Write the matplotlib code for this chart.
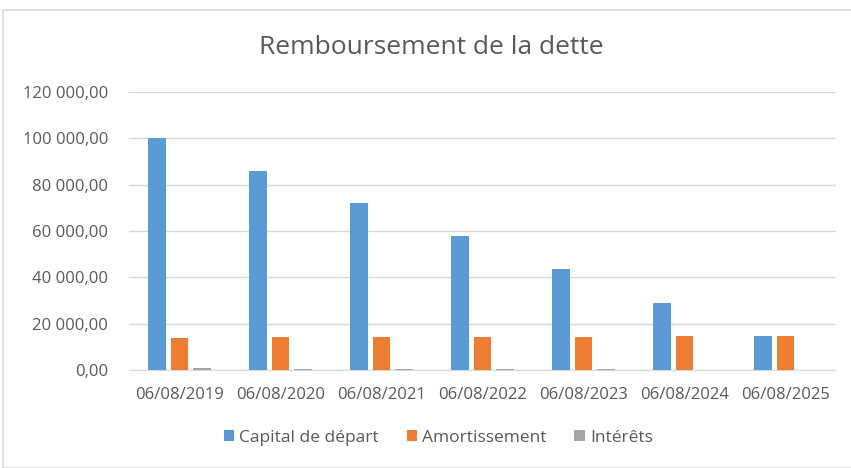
import numpy as np
import matplotlib
matplotlib.use("Agg")
import matplotlib.pyplot as plt
from matplotlib.patches import Rectangle

dates = ["06/08/2019", "06/08/2020", "06/08/2021", "06/08/2022",
         "06/08/2023", "06/08/2024", "06/08/2025"]
capital = [100000, 86010, 71920, 57735, 43450, 29060, 14580]
amortissement = [13990, 14090, 14190, 14290, 14390, 14490, 14590]
interets = [700, 600, 500, 400, 300, 200, 100]
series_names = ["Capital de départ", "Amortissement", "Intérêts"]
colors = ["#5b9bd5", "#ed7d31", "#a5a5a5"]

plt.rcParams['font.family'] = ['Open Sans', 'DejaVu Sans']
txt = "#595959"

fig = plt.figure(figsize=(8.51, 4.68), dpi=100)
fig.patches.append(Rectangle((3 / 851, 0), 1, 458 / 468, transform=fig.transFigure,
                             fill=False, edgecolor="#d9d9d9", linewidth=1.2))
ax = fig.add_axes([129 / 851, 1 - 370 / 468, 707 / 851, 278 / 468])

x = np.arange(len(dates))
w = 0.178
step = 0.227
for i, (vals, name, c) in enumerate(zip([capital, amortissement, interets], series_names, colors)):
    ax.bar(x + (i - 1) * step, vals, width=w, color=c, label=name, zorder=3)

ax.set_xlim(-0.5, len(dates) - 0.5)
ax.set_ylim(0, 120000)
yt = np.arange(0, 120001, 20000)
ax.set_yticks(yt)
ax.set_yticklabels([f"{v:,.2f}".replace(",", " ").replace(".", ",") for v in yt])
ax.set_xticks(x)
ax.set_xticklabels(dates)
ax.tick_params(length=0, labelsize=12, colors=txt)
ax.tick_params(axis="y", pad=15)
ax.tick_params(axis="x", pad=12)
ax.grid(axis="y", color="#d9d9d9", linewidth=1, zorder=0)
for s in ["top", "right", "left"]:
    ax.spines[s].set_visible(False)
ax.spines["bottom"].set_color("#d9d9d9")

fig.text(0.507, 1 - 47 / 468, "Remboursement de la dette", ha="center", va="center",
         fontsize=19, color=txt)
leg = fig.legend(loc="center", bbox_to_anchor=(0.515, 1 - 438 / 468), ncol=3, frameon=False,
                 fontsize=12.5, handlelength=0.6, handleheight=0.6, columnspacing=1.6,
                 handletextpad=0.3)
for t in leg.get_texts():
    t.set_color(txt)

fig.savefig("out.png", dpi=100)
